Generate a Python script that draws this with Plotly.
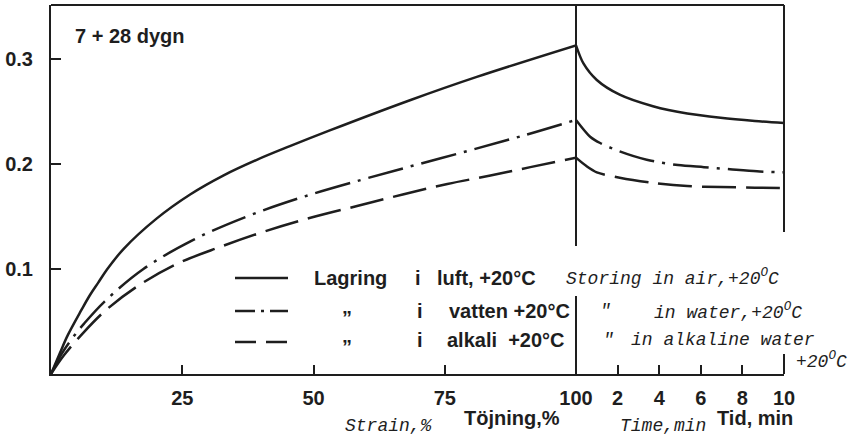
import plotly.graph_objects as go

# strain part (x in %), creep values
strain_air = [0, 1.7, 3.2, 5.8, 7.4, 9.0, 10.6, 13.8, 20.1, 26.5, 32.8, 39.2, 45.5, 53.1, 68.5, 81.1, 100]
val_air = [0, 0.020, 0.037, 0.061, 0.075, 0.087, 0.099, 0.119, 0.148, 0.171, 0.189, 0.204, 0.217, 0.232,
           0.261, 0.283, 0.313]

strain_water = [0, 2.0, 4.2, 6.3, 10.2, 17.6, 27.2, 37.3, 47.6, 59.2, 69.4, 79.8, 89.9, 100]
val_water = [0, 0.019, 0.035, 0.048, 0.069, 0.100, 0.128, 0.150, 0.168, 0.185, 0.199, 0.213, 0.227, 0.242]

strain_alk = [0, 2.5, 6.1, 10.5, 16.3, 23.6, 32.2, 40.8, 49.6, 58.3, 67, 75.5, 83.7, 91.3, 100]
val_alk = [0, 0.018, 0.039, 0.061, 0.083, 0.104, 0.121, 0.136, 0.149, 0.160, 0.171, 0.181, 0.189, 0.197, 0.206]

# relaxation part (time in min)
time_air = [0, 0.35, 1.0, 2.1, 3.7, 5.35, 6.95, 8.6, 10]
rel_air = [0.313, 0.296, 0.280, 0.266, 0.255, 0.248, 0.244, 0.241, 0.239]

time_water = [0, 0.68, 1.16, 2.1, 3.4, 4.9, 6.15, 7.4, 8.7, 10]
rel_water = [0.242, 0.226, 0.220, 0.212, 0.204, 0.199, 0.197, 0.195, 0.193, 0.192]

time_alk = [0, 0.5, 1.0, 2.1, 3.7, 5.35, 6.95, 8.6, 10]
rel_alk = [0.206, 0.198, 0.192, 0.187, 0.182, 0.179, 0.178, 0.1775, 0.177]

strain_ticks = [25, 50, 75, 100]
time_ticks = [2, 4, 6, 8, 10]
y_ticks = [0.1, 0.2, 0.3]

INK = "#1e1e1e"
SANS = "Liberation Sans"
MONO = "Liberation Mono"

# plot area in pixels
L, R, T, B = 51, 784, 5, 374
W, H = R - L, B - T
SPLIT = (576 - L) / W


def px(x):
    return (x - L) / W


def py(y):
    return (B - y) / H


styles = {"air": None, "water": "36px,8px,3px,8px", "alk": "34px,10px"}

fig = go.Figure()
for xs, ys, key in [(strain_air, val_air, "air"), (strain_water, val_water, "water"), (strain_alk, val_alk, "alk")]:
    fig.add_trace(go.Scatter(x=xs, y=ys, mode="lines", xaxis="x", yaxis="y",
                             line=dict(color=INK, width=2.5, dash=styles[key], shape="spline", smoothing=1.0)))
for xs, ys, key in [(time_air, rel_air, "air"), (time_water, rel_water, "water"), (time_alk, rel_alk, "alk")]:
    fig.add_trace(go.Scatter(x=xs, y=ys, mode="lines", xaxis="x2", yaxis="y",
                             line=dict(color=INK, width=2.5, dash=styles[key], shape="spline", smoothing=0.8)))

tickfont = dict(family=SANS, size=20, color=INK, weight="bold")
axis_common = dict(showgrid=False, zeroline=False, showline=True, linecolor=INK, linewidth=2,
                   ticks="inside", tickcolor=INK, tickwidth=2, ticklen=9, tickfont=tickfont)

fig.update_layout(
    width=864, height=445,
    margin=dict(l=L, r=864 - R, t=T, b=445 - B),
    paper_bgcolor="white", plot_bgcolor="white",
    showlegend=False,
    xaxis=dict(domain=[0, SPLIT], range=[0, 100], tickvals=strain_ticks, ticklabelstandoff=5, **axis_common),
    xaxis2=dict(domain=[SPLIT, 1], range=[0, 10], anchor="y", tickvals=time_ticks, ticklabelstandoff=5,
                **axis_common),
    yaxis=dict(range=[0, (B - T) / 1050], tickvals=y_ticks, tickformat=".1f", ticklabelstandoff=12,
               **{**axis_common, "ticklen": 10}),
)

# frame: top, right border (interrupted by the legend), divider at 100 %
line = dict(color=INK, width=2)
fig.add_shape(type="line", xref="paper", yref="paper", x0=0, x1=1, y0=1, y1=1, line=line)
fig.add_shape(type="line", xref="paper", yref="paper", x0=1, x1=1, y0=1, y1=py(232), line=line)
fig.add_shape(type="line", xref="paper", yref="paper", x0=1, x1=1, y0=py(354), y1=0, line=line)
fig.add_shape(type="line", xref="paper", yref="paper", x0=SPLIT, x1=SPLIT, y0=1, y1=py(246), line=line)
fig.add_shape(type="line", xref="paper", yref="paper", x0=SPLIT, x1=SPLIT, y0=py(296), y1=0, line=line)

# legend samples
for yy, key in [(278, "air"), (311, "water"), (342, "alk")]:
    dash = {"air": None, "water": "20px,6px,3px,6px", "alk": "21px,10px"}[key]
    fig.add_shape(type="line", xref="paper", yref="paper", x0=px(235), x1=px(288), y0=py(yy), y1=py(yy),
                  line=dict(color=INK, width=2.5, dash=dash))


def note(text, x, y, font, size, italic=False, bold=True):
    fig.add_annotation(text=text, x=px(x), y=py(y), xref="paper", yref="paper", xanchor="left",
                       yanchor="middle", showarrow=False,
                       font=dict(family=font, size=size, color=INK,
                                 style="italic" if italic else "normal",
                                 weight="bold" if bold else "normal"))


note("7 + 28 dygn", 73, 36, SANS, 20)

note("Lagring", 312, 278, SANS, 20)
note("i", 413, 278, SANS, 20)
note("luft, +20°C", 435, 278, SANS, 20)
note("Storing in air,+20<sup>O</sup>C", 564, 278, MONO, 18, italic=True, bold=False)

note("\u201d", 340, 318, SANS, 20)
note("i", 415, 311, SANS, 20)
note("vatten +20°C", 447, 311, SANS, 20)
note("\u2033", 598, 311, MONO, 18, italic=True, bold=False)
note("in water,+20<sup>O</sup>C", 652, 311, MONO, 18, italic=True, bold=False)

note("\u201d", 340, 347, SANS, 20)
note("i", 415, 340, SANS, 20)
note("alkali  +20°C", 445, 340, SANS, 20)
note("\u2033", 601, 340, MONO, 18, italic=True, bold=False)
note("in alkaline water", 629, 340, MONO, 18, italic=True, bold=False)
note("+20<sup>O</sup>C", 794, 360, MONO, 18, italic=True, bold=False)

note("Strain,%", 343, 426, MONO, 18, italic=True, bold=False)
note("Töjning,%", 462, 418, SANS, 20)
note("Time,min", 618, 426, MONO, 18, italic=True, bold=False)
note("Tid, min", 715, 418, SANS, 20)

fig.write_html("out.html", config={"displayModeBar": False},
               post_script="document.body.style.margin = '0';")
